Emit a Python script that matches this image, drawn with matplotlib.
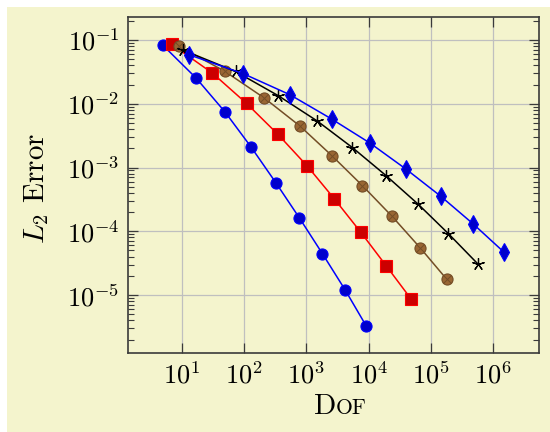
import matplotlib
matplotlib.use('Agg')
import matplotlib.pyplot as plt
from matplotlib.patches import Rectangle

# data (Dof, L2 error)
dof_p1 = [5, 17, 49.6, 129, 323, 773, 1807, 4180, 9080]
err_p1 = [0.0823, 0.0253, 7.41e-3, 2.11e-3, 5.80e-4, 1.62e-4, 4.47e-5, 1.21e-5, 3.31e-6]

dof_p2 = [6.9, 31, 110, 351, 1038, 2812, 7464, 19000, 47900]
err_p2 = [0.0853, 0.0303, 0.0101, 3.30e-3, 1.05e-3, 3.23e-4, 9.68e-5, 2.90e-5, 8.69e-6]

dof_p3 = [9.05, 49.6, 212, 792, 2560, 7930, 23700, 66800, 179000]
err_p3 = [0.0794, 0.0321, 0.01228, 4.46e-3, 1.54e-3, 5.21e-4, 1.72e-4, 5.54e-5, 1.77e-5]

dof_p4 = [10.6, 73, 351, 1503, 5470, 19000, 62100, 190000, 560000]
err_p4 = [0.0692, 0.0321, 0.01346, 5.35e-3, 2.06e-3, 7.48e-4, 2.67e-4, 9.21e-5, 3.11e-5]

dof_p5 = [13.1, 97.5, 547, 2560, 10500, 39800, 143000, 474000, 1.5e6]
err_p5 = [0.0587, 0.0296, 0.01384, 5.75e-3, 2.42e-3, 9.44e-4, 3.56e-4, 1.31e-4, 4.67e-5]

plt.rcParams['font.family'] = 'cmr10'
plt.rcParams['mathtext.fontset'] = 'cm'
plt.rcParams['axes.formatter.use_mathtext'] = True

yellow = '#f4f4cd'
fig = plt.figure(figsize=(5.5, 4.32), dpi=100, facecolor='white')
fig.patches.append(Rectangle((7/550., 0), 1, 1-7/432., transform=fig.transFigure,
                             facecolor=yellow, edgecolor='none', zorder=-10))
ax = fig.add_axes([128/550., 1-353/432., 411/550., 336/432.])
ax.set_facecolor('none')

ax.plot(dof_p1, err_p1, '-', color='#0000ff', lw=1.1, marker='o', ms=8,
        mfc='#0000cc', mec='#0000ff', mew=0.8)
ax.plot(dof_p2, err_p2, '-', color='#ff0000', lw=1.1, marker='s', ms=8,
        mfc='#cc0000', mec='#ff0000', mew=0.8)
ax.plot(dof_p3, err_p3, '-', color='#734d26', lw=1.1, marker='o', ms=8,
        mfc='#996633', mec='#734d26', mew=0.8)
ax.plot(dof_p3, err_p3, 'none', marker='x', ms=5.2, mec='#734d26', mew=0.7)
ax.plot(dof_p4, err_p4, '-', color='black', lw=1.1, marker=(5, 2, 0), ms=9,
        mec='black', mew=0.9)
ax.plot(dof_p5, err_p5, '-', color='#0000ff', lw=1.1, marker='d', ms=9,
        mfc='#0000cc', mec='#0000ff', mew=0.8)

ax.set_xscale('log')
ax.set_yscale('log')
ax.set_xlim(1.37, 5.43e6)
ax.set_ylim(1.233e-6, 0.2296)
ax.set_xticks([1e1, 1e2, 1e3, 1e4, 1e5, 1e6])
ax.set_yticks([1e-1, 1e-2, 1e-3, 1e-4, 1e-5])

ax.grid(True, which='major', color='#bfbfbf', lw=0.9, zorder=0)
ax.set_axisbelow(True)
for s in ax.spines.values():
    s.set_color('#3a3a3a')
    s.set_linewidth(1.2)

ax.tick_params(direction='in', which='both', top=True, right=True, color='#3a3a3a')
ax.tick_params(which='major', length=7, width=0.9, labelsize=19, pad=6)
ax.tick_params(which='minor', length=4.5, width=0.8)

fig.text(37/550., 1-188/432., r'$L_2$ Error', size=21, rotation=90,
         ha='center', va='center')
# small caps "Dof"
fig.text(336/550., 1-414/432., 'D', size=21, ha='right', va='baseline')
fig.text(336/550., 1-414/432., 'OF', size=15.5, ha='left', va='baseline')

plt.savefig('out.png', dpi=100, facecolor=fig.get_facecolor())
